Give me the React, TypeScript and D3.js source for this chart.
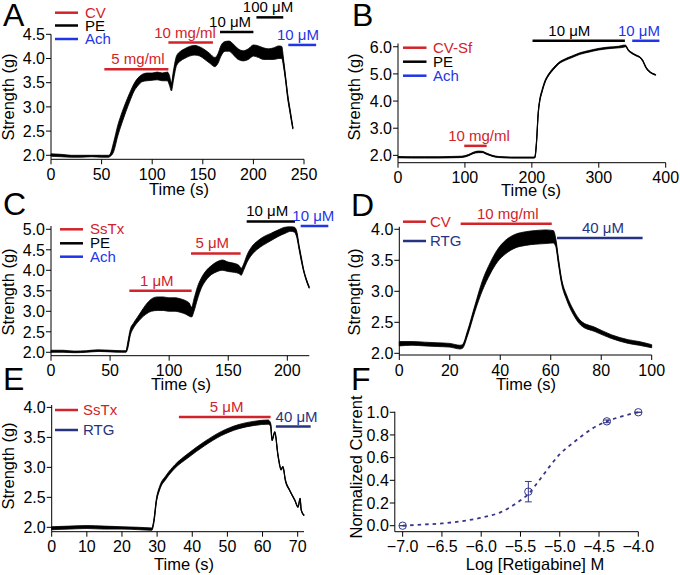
import React from "react";
import * as d3 from "d3";

const FONT = "'Liberation Sans', Arial, Helvetica, sans-serif";
const COLORS: Record<string, string> = {
  red: "#d2232a",
  black: "#000000",
  blue: "#1f35e6",
  navy: "#27337f",
};
const F_COLOR = "#35358a";

// ---------- Panel A (CV, PE, Ach) : [time s, low g, high g]
const traceA: [number, number, number][] = [
  [0, 1.98, 2.03], [10, 1.97, 2.02], [20, 1.96, 2.0], [30, 1.96, 2.0], [40, 1.97, 2.0],
  [50, 1.96, 2.0], [57, 1.96, 2.0], [58, 1.97, 2.01], [62, 2.08, 2.28], [66, 2.4, 2.62],
  [70, 2.66, 2.88], [74, 2.9, 3.1], [78, 3.12, 3.3], [82, 3.32, 3.48], [86, 3.44, 3.6],
  [90, 3.52, 3.67], [95, 3.54, 3.7], [100, 3.55, 3.7], [105, 3.56, 3.72], [110, 3.54, 3.7],
  [115, 3.54, 3.72], [117, 3.45, 3.65], [119, 3.33, 3.5], [121, 3.55, 3.75], [124, 3.85, 4.05],
  [128, 3.95, 4.15], [132, 4.0, 4.2], [137, 4.05, 4.25], [142, 4.07, 4.27], [147, 4.05, 4.24],
  [152, 3.98, 4.18], [157, 3.9, 4.1], [162, 3.83, 4.02], [165, 3.9, 4.1], [168, 4.05, 4.27],
  [172, 4.15, 4.35], [176, 4.15, 4.36], [180, 4.08, 4.3], [185, 3.98, 4.2], [190, 3.95, 4.16],
  [195, 3.98, 4.2], [200, 4.05, 4.28], [205, 4.02, 4.26], [210, 3.98, 4.22], [215, 3.98, 4.2],
  [220, 3.98, 4.22], [225, 4.0, 4.26], [228, 4.0, 4.25], [230, 3.8, 3.95], [232, 3.5, 3.6],
  [234, 3.15, 3.25], [236, 2.9, 2.98], [238, 2.65, 2.72], [239, 2.54, 2.58],
];
const legendA: [string, string][] = [["CV", "red"], ["PE", "black"], ["Ach", "blue"]];
// [label, start s, end s, level g, colour key, label time]
const barsA: [string, number, number, number, string, number][] = [
  ["5 mg/ml", 52.7, 116, 3.78, "red", 86],
  ["10 mg/ml", 116, 160, 4.33, "red", 132.5],
  ["10 μM", 167, 200, 4.55, "black", 177],
  ["100 μM", 203, 229.5, 4.85, "black", 214.4],
  ["10 μM", 234.5, 262, 4.28, "blue", 244],
];
const xTicksA = [0, 50, 100, 150, 200, 250];
const yTicksA = [2.0, 2.5, 3.0, 3.5, 4.0, 4.5];

// ---------- Panel B (CV-Sf, PE, Ach)
const traceB: [number, number, number][] = [
  [0, 1.91, 1.96], [20, 1.9, 1.95], [40, 1.9, 1.95], [60, 1.9, 1.95], [80, 1.91, 1.96],
  [95, 1.92, 1.97], [105, 1.98, 2.03], [112, 2.06, 2.11], [120, 2.1, 2.16], [126, 2.1, 2.15],
  [132, 2.04, 2.09], [140, 1.97, 2.01], [150, 1.92, 1.96], [170, 1.9, 1.94], [190, 1.9, 1.94],
  [204, 1.9, 1.94], [205, 1.95, 2.0], [207, 2.45, 2.55], [209.5, 3.5, 3.6], [212, 4.0, 4.1],
  [215, 4.3, 4.4], [220, 4.7, 4.78], [225, 4.93, 5.0], [232, 5.15, 5.22], [240, 5.36, 5.42],
  [250, 5.5, 5.56], [260, 5.6, 5.66], [272, 5.72, 5.78], [285, 5.8, 5.86], [300, 5.88, 5.94],
  [315, 5.93, 5.99], [330, 5.96, 6.02], [337, 5.98, 6.06], [340, 6.0, 6.06], [344, 5.86, 5.9],
  [350, 5.74, 5.78], [356, 5.66, 5.7], [362, 5.58, 5.62], [366, 5.45, 5.5], [370, 5.24, 5.28],
  [375, 5.08, 5.12], [380, 5.0, 5.03], [385, 4.95, 4.98],
];
const legendB: [string, string][] = [["CV-Sf", "red"], ["PE", "black"], ["Ach", "blue"]];
const barsB: [string, number, number, number, string, number][] = [
  ["10 mg/ml", 99, 132.5, 2.35, "red", 121],
  ["10 μM", 201, 339, 6.22, "black", 256],
  ["10 μM", 350, 390.6, 6.22, "blue", 360],
];
const xTicksB = [0, 100, 200, 300, 400];
const yTicksB = [2.0, 3.0, 4.0, 5.0, 6.0];

// ---------- Panel C (SsTx, PE, Ach)
const traceC: [number, number, number][] = [
  [0, 2.0, 2.05], [10, 2.0, 2.05], [20, 1.99, 2.03], [30, 2.0, 2.04], [40, 2.02, 2.06],
  [50, 2.01, 2.05], [60, 2.0, 2.04], [63.5, 2.0, 2.04], [65, 2.1, 2.25], [67, 2.4, 2.55],
  [70, 2.6, 2.72], [73, 2.72, 2.85], [76, 2.82, 2.98], [80, 2.92, 3.15], [85, 3.0, 3.3],
  [90, 3.02, 3.35], [95, 3.02, 3.35], [100, 3.0, 3.33], [105, 3.0, 3.33], [110, 2.97, 3.3],
  [114, 2.93, 3.26], [117, 2.88, 3.2], [119, 2.86, 3.1], [121, 3.0, 3.3], [124, 3.3, 3.6],
  [127, 3.55, 3.8], [131, 3.75, 3.98], [136, 3.9, 4.12], [140, 3.96, 4.2], [145, 4.0, 4.25],
  [150, 3.97, 4.2], [155, 3.95, 4.17], [159, 3.92, 4.12], [161, 3.88, 4.05], [163, 4.0, 4.15],
  [166, 4.2, 4.38], [170, 4.38, 4.58], [175, 4.52, 4.72], [180, 4.62, 4.82], [186, 4.72, 4.9],
  [192, 4.82, 4.98], [198, 4.9, 5.05], [203, 4.95, 5.06], [206, 4.93, 5.05], [208, 4.8, 4.95],
  [210, 4.5, 4.6], [212, 4.2, 4.3], [214, 3.95, 4.0], [216, 3.75, 3.8], [218.5, 3.56, 3.6],
];
const legendC: [string, string][] = [["SsTx", "red"], ["PE", "black"], ["Ach", "blue"]];
const barsC: [string, number, number, number, string, number][] = [
  ["1 μM", 66.3, 119, 3.5, "red", 89.5],
  ["5 μM", 118.5, 160.5, 4.41, "red", 136.5],
  ["10 μM", 165.6, 206.5, 5.19, "black", 183],
  ["10 μM", 211.3, 234.7, 5.08, "blue", 222],
];
const xTicksC = [0, 50, 100, 150, 200];
const yTicksC = [2.0, 2.5, 3.0, 3.5, 4.0, 4.5, 5.0];

// ---------- Panel D (CV, RTG)
const traceD: [number, number, number][] = [
  [0, 2.12, 2.19], [5, 2.13, 2.19], [10, 2.12, 2.18], [15, 2.11, 2.17], [20, 2.1, 2.16],
  [24, 2.07, 2.13], [25, 2.08, 2.14], [27, 2.28, 2.36], [30, 2.68, 2.78], [33, 3.02, 3.18],
  [36, 3.28, 3.46], [39, 3.48, 3.68], [42, 3.6, 3.82], [46, 3.7, 3.92], [50, 3.74, 3.96],
  [54, 3.76, 3.98], [58, 3.77, 3.99], [61, 3.78, 3.98], [62, 3.72, 3.85], [63, 3.45, 3.55],
  [64.3, 3.12, 3.2], [66.3, 2.86, 2.94], [69, 2.62, 2.7], [72, 2.45, 2.52], [77.5, 2.35, 2.42],
  [84, 2.24, 2.3], [90.7, 2.16, 2.22], [95, 2.13, 2.19], [100, 2.09, 2.14],
];
const legendD: [string, string][] = [["CV", "red"], ["RTG", "navy"]];
const barsD: [string, number, number, number, string, number][] = [
  ["10 mg/ml", 24.3, 60.4, 4.09, "red", 43],
  ["40 μM", 62.5, 96.4, 3.86, "navy", 80.7],
];
const xTicksD = [0, 20, 40, 60, 80, 100];
const yTicksD = [2.0, 2.5, 3.0, 3.5, 4.0];

// ---------- Panel E (SsTx, RTG)
const traceE: [number, number, number][] = [
  [0, 1.96, 2.01], [5, 1.97, 2.02], [10, 1.98, 2.03], [15, 1.97, 2.02], [20, 1.97, 2.01],
  [25, 1.96, 2.0], [28.5, 1.95, 1.99], [29.1, 2.08, 2.14], [29.8, 2.42, 2.48], [30.7, 2.62, 2.68],
  [32.6, 2.81, 2.87], [35, 2.98, 3.04], [38.8, 3.16, 3.23], [43.5, 3.36, 3.43], [48.3, 3.53, 3.6],
  [53, 3.64, 3.71], [57.8, 3.7, 3.77], [61.6, 3.72, 3.79], [62.3, 3.68, 3.74], [62.7, 3.44, 3.48],
  [63.5, 3.57, 3.6], [64.4, 3.18, 3.22], [65.3, 2.95, 2.98], [65.8, 3.0, 3.02], [66.5, 2.77, 2.8],
  [67.7, 2.61, 2.63], [69.2, 2.44, 2.46], [70.1, 2.33, 2.35], [70.7, 2.47, 2.49], [71.0, 2.28, 2.3],
  [71.8, 2.19, 2.21],
];
const legendE: [string, string][] = [["SsTx", "red"], ["RTG", "navy"]];
const barsE: [string, number, number, number, string, number][] = [
  ["5 μM", 36.2, 62.3, 3.84, "red", 49.8],
  ["40 μM", 63.8, 73.7, 3.68, "navy", 69.7],
];
const xTicksE = [0, 10, 20, 30, 40, 50, 60, 70];
const yTicksE = [2.0, 2.5, 3.0, 3.5, 4.0];

// ---------- Panel F (dose response)
const logConc = [-7.0, -5.4, -4.4, -4.0];
const normCurrent = [0.0, 0.3, 0.92, 1.0];
const normErr = [0.0, 0.09, 0.012, 0.0];
const fitX = [-7.0, -6.75, -6.5, -6.25, -6.0, -5.75, -5.55, -5.4, -5.25, -5.12, -5.0, -4.85, -4.72, -4.6, -4.5, -4.4, -4.23, -4.0];
const fitY = [0.0, 0.01, 0.02, 0.04, 0.07, 0.12, 0.2, 0.28, 0.41, 0.53, 0.63, 0.72, 0.79, 0.85, 0.89, 0.92, 0.96, 1.0];
const xTicksF = [-7.0, -6.5, -6.0, -5.5, -5.0, -4.5, -4.0];
const yTicksF = [0.0, 0.2, 0.4, 0.6, 0.8, 1.0];

const TICK_FS = 16;
const TITLE_FS = 16.5;
const LABEL_FS = 15;

function Axes({ L, xs, ys, xTicks, yTicks, yFmt }: any) {
  const ax = L.xRange[0];
  const ay = L.yRange[0];
  return (
    <g>
      <line x1={ax} x2={ax} y1={L.yRange[0]} y2={L.yRange[1]} stroke="#000" strokeWidth={1} />
      <line x1={L.xRange[0]} x2={L.xRange[1]} y1={ay} y2={ay} stroke="#000" strokeWidth={1} />
      {yTicks.map((v: number) => (
        <g key={"y" + v}>
          <line x1={ax - 5} x2={ax} y1={ys(v)} y2={ys(v)} stroke="#000" strokeWidth={1} />
          <text x={ax - 6} y={ys(v)} dy="0.36em" textAnchor="end" fontSize={TICK_FS}>{yFmt(v)}</text>
        </g>
      ))}
      {xTicks.map((v: number) => (
        <g key={"x" + v}>
          <line x1={xs(v)} x2={xs(v)} y1={ay} y2={ay + 5} stroke="#000" strokeWidth={1} />
          <text x={xs(v)} y={ay + 20.5} textAnchor="middle" fontSize={TICK_FS}>{L.xFmt ? L.xFmt(v) : String(v)}</text>
        </g>
      ))}
      <text x={L.xTitleX} y={L.xTitleY} textAnchor="middle" fontSize={TITLE_FS}>{L.xTitle}</text>
      <text transform={`translate(${L.yTitleX},${L.yTitleY}) rotate(-90)`} textAnchor="middle" fontSize={TITLE_FS}>{L.yTitle}</text>
      <text x={L.letterX} y={L.letterY} fontSize={32}>{L.letter}</text>
    </g>
  );
}

function TracePanel({ L, trace, legend, bars, xTicks, yTicks }: any) {
  const xs = d3.scaleLinear().domain(L.xDomain).range(L.xRange);
  const ys = d3.scaleLinear().domain(L.yDomain).range(L.yRange);
  const area = d3.area<[number, number, number]>()
    .x((d) => xs(d[0])).y0((d) => ys(d[1])).y1((d) => ys(d[2]))
    .curve(d3.curveMonotoneX);
  const mid = d3.line<[number, number, number]>()
    .x((d) => xs(d[0])).y((d) => ys((d[1] + d[2]) / 2))
    .curve(d3.curveMonotoneX);
  const fmt = d3.format(".1f");
  return (
    <g>
      <Axes L={L} xs={xs} ys={ys} xTicks={xTicks} yTicks={yTicks} yFmt={fmt} />
      <path d={area(trace) || ""} fill="#000" stroke="#000" strokeWidth={0.8} />
      <path d={mid(trace) || ""} fill="none" stroke="#000" strokeWidth={1.2} />
      {bars.map((b: any, i: number) => (
        <g key={"b" + i}>
          <line x1={xs(b[1])} x2={xs(b[2])} y1={ys(b[3])} y2={ys(b[3])} stroke={COLORS[b[4]]} strokeWidth={2.5} />
          <text x={xs(b[5])} y={ys(b[3]) - 5} textAnchor="middle" fontSize={LABEL_FS} fill={COLORS[b[4]]}>{b[0]}</text>
        </g>
      ))}
      {legend.map((l: any, i: number) => (
        <g key={"l" + i}>
          <line x1={L.legendX1} x2={L.legendX2} y1={L.legendYs[i]} y2={L.legendYs[i]} stroke={COLORS[l[1]]} strokeWidth={2.5} />
          <text x={L.legendTextX} y={L.legendYs[i] + 5} fontSize={LABEL_FS} fill={COLORS[l[1]]}>{l[0]}</text>
        </g>
      ))}
    </g>
  );
}

const LA = {
  letter: "A", letterX: 3, letterY: 26,
  xDomain: [0, 250], xRange: [51, 304], yDomain: [1.917, 4.5], yRange: [159.3, 34.3],
  xTitle: "Time (s)", xTitleX: 179, xTitleY: 195,
  yTitle: "Strength (g)", yTitleX: 14, yTitleY: 97,
  legendX1: 55, legendX2: 78, legendTextX: 85, legendYs: [12.7, 25.5, 39],
};
const LB = {
  letter: "B", letterX: 352, letterY: 26,
  xDomain: [0, 400], xRange: [398, 665.7], yDomain: [1.73, 6.12], yRange: [162.7, 43.5],
  xTitle: "Time (s)", xTitleX: 531, xTitleY: 196,
  yTitle: "Strength (g)", yTitleX: 360, yTitleY: 97,
  legendX1: 403, legendX2: 426.5, legendTextX: 433, legendYs: [47.7, 61.7, 75.7],
};
const LC = {
  letter: "C", letterX: 3, letterY: 215,
  xDomain: [0, 218.6], xRange: [51, 309.3], yDomain: [1.917, 5.08], yRange: [355.7, 226],
  xTitle: "Time (s)", xTitleX: 181, xTitleY: 390,
  yTitle: "Strength (g)", yTitleX: 14, yTitleY: 292,
  legendX1: 60, legendX2: 83, legendTextX: 90, legendYs: [229.3, 243.3, 256.7],
};
const LD = {
  letter: "D", letterX: 351, letterY: 216,
  xDomain: [0, 100], xRange: [399.3, 651.7], yDomain: [1.973, 4.04], yRange: [355, 226.8],
  xTitle: "Time (s)", xTitleX: 526, xTitleY: 390,
  yTitle: "Strength (g)", yTitleX: 360, yTitleY: 292,
  legendX1: 403, legendX2: 426, legendTextX: 430, legendYs: [221.7, 241],
};
const LE = {
  letter: "E", letterX: 3, letterY: 390,
  xDomain: [0, 71.8], xRange: [51.7, 304], yDomain: [1.927, 4.04], yRange: [531.7, 405],
  xTitle: "Time (s)", xTitleX: 184, xTitleY: 570,
  yTitle: "Strength (g)", yTitleX: 14, yTitleY: 466,
  legendX1: 55, legendX2: 78, legendTextX: 83, legendYs: [410, 430],
};
const LF = {
  letter: "F", letterX: 351, letterY: 390,
  xDomain: [-7.1, -4.0], xRange: [394.8, 638.3], yDomain: [-0.053, 1.005], yRange: [531.7, 411.7],
  xTitle: "Log [Retigabine] M", xTitleX: 535, xTitleY: 570,
  yTitle: "Normalized Current", yTitleX: 362, yTitleY: 467,
  xFmt: d3.format(".1f"),
};

function DosePanel() {
  const L = LF;
  const xs = d3.scaleLinear().domain(L.xDomain).range(L.xRange);
  const ys = d3.scaleLinear().domain(L.yDomain).range(L.yRange);
  const fit = d3.line<number>().x((d, i) => xs(fitX[i])).y((d) => ys(d)).curve(d3.curveMonotoneX);
  const fmt = d3.format(".1f");
  return (
    <g>
      <Axes L={L} xs={xs} ys={ys} xTicks={xTicksF} yTicks={yTicksF} yFmt={fmt} />
      <path d={fit(fitY) || ""} fill="none" stroke={F_COLOR} strokeWidth={1.8} strokeDasharray="3.5,4" />
      {logConc.map((c, i) => {
        const cx = xs(c);
        const cy = ys(normCurrent[i]);
        const yt = ys(normCurrent[i] + normErr[i]);
        const yb = ys(normCurrent[i] - normErr[i]);
        return (
          <g key={"p" + i} stroke={F_COLOR} strokeWidth={1} fill="none">
            <circle cx={cx} cy={cy} r={3.7} />
            <line x1={cx} x2={cx} y1={yt} y2={yb} />
            <line x1={cx - 3.4} x2={cx + 3.4} y1={yt} y2={yt} />
            <line x1={cx - 3.4} x2={cx + 3.4} y1={yb} y2={yb} />
          </g>
        );
      })}
    </g>
  );
}

export default function App() {
  return (
    <svg width={680} height={575} style={{ position: "absolute", left: 0, top: 0, background: "#fff" }}
      fontFamily={FONT}>
      <rect width={680} height={575} fill="#fff" />
      <TracePanel L={LA} trace={traceA} legend={legendA} bars={barsA} xTicks={xTicksA} yTicks={yTicksA} />
      <TracePanel L={LB} trace={traceB} legend={legendB} bars={barsB} xTicks={xTicksB} yTicks={yTicksB} />
      <TracePanel L={LC} trace={traceC} legend={legendC} bars={barsC} xTicks={xTicksC} yTicks={yTicksC} />
      <TracePanel L={LD} trace={traceD} legend={legendD} bars={barsD} xTicks={xTicksD} yTicks={yTicksD} />
      <TracePanel L={LE} trace={traceE} legend={legendE} bars={barsE} xTicks={xTicksE} yTicks={yTicksE} />
      <DosePanel />
    </svg>
  );
}
